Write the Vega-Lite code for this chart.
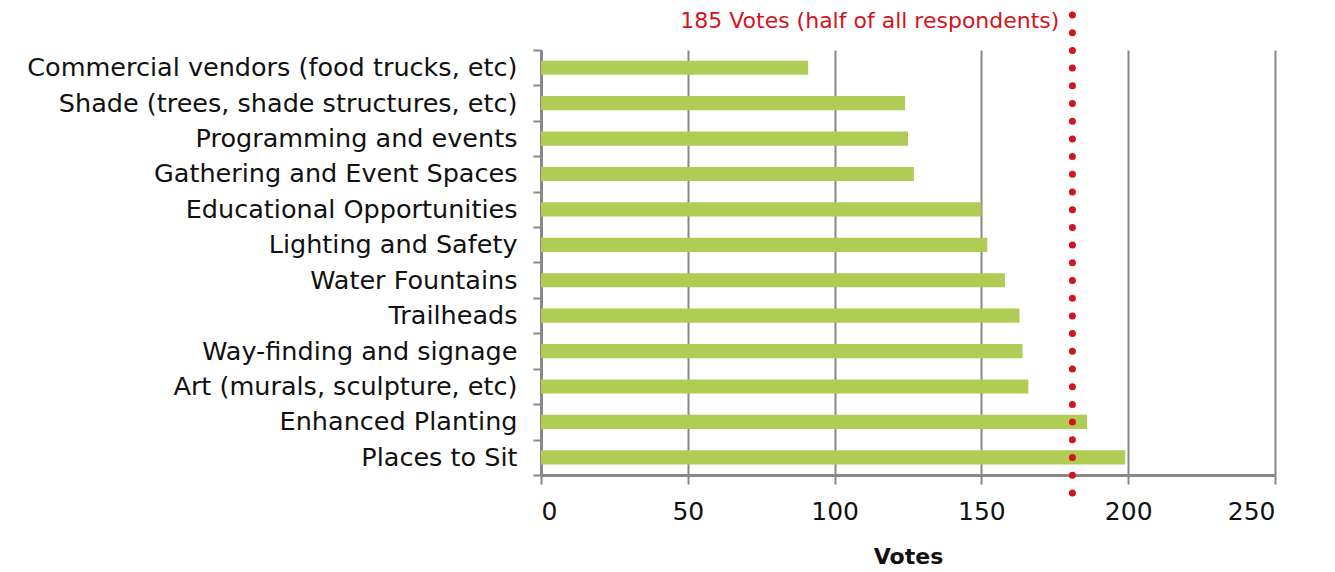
{
  "$schema": "https://vega.github.io/schema/vega-lite/v6.json",
  "width": 734,
  "height": 425,
  "autosize": {"type": "none"},
  "padding": {"left": 541, "top": 50, "right": 60, "bottom": 97},
  "config": {
    "view": {"stroke": null},
    "font": "DejaVu Sans"
  },
  "data": {
    "values": [
      {"item": "Commercial vendors (food trucks, etc)", "votes": 91},
      {"item": "Shade (trees, shade structures, etc)", "votes": 124},
      {"item": "Programming and events", "votes": 125},
      {"item": "Gathering and Event Spaces", "votes": 127},
      {"item": "Educational Opportunities", "votes": 150},
      {"item": "Lighting and Safety", "votes": 152},
      {"item": "Water Fountains", "votes": 158},
      {"item": "Trailheads", "votes": 163},
      {"item": "Way-finding and signage", "votes": 164},
      {"item": "Art (murals, sculpture, etc)", "votes": 166},
      {"item": "Enhanced Planting", "votes": 186},
      {"item": "Places to Sit", "votes": 199}
    ]
  },
  "layer": [
    {
      "mark": {"type": "bar", "color": "#B0CC55", "height": {"band": 0.4}},
      "encoding": {
        "y": {
          "field": "item",
          "type": "nominal",
          "sort": null,
          "scale": {"paddingInner": 0, "paddingOuter": 0},
          "axis": {
            "title": null,
            "labelFontSize": 25.5,
            "labelColor": "#111111",
            "labelPadding": 16,
            "labelLimit": 600,
            "tickBand": "extent",
            "tickSize": 8,
            "tickColor": "#888888",
            "tickWidth": 2,
            "domainColor": "#888888",
            "domainWidth": 3
          }
        },
        "x": {
          "field": "votes",
          "type": "quantitative",
          "scale": {"domain": [0, 250], "nice": false},
          "axis": {
            "values": [0, 50, 100, 150, 200, 250],
            "title": "Votes",
            "titleFontSize": 22,
            "titleFontWeight": "bold",
            "titleColor": "#111111",
            "titlePadding": 22,
            "labelFontSize": 25,
            "labelColor": "#111111",
            "labelPadding": 15,
            "tickSize": 9,
            "tickColor": "#888888",
            "tickWidth": 2,
            "domainColor": "#888888",
            "domainWidth": 3,
            "grid": true,
            "gridColor": "#888888",
            "gridWidth": 2
          }
        }
      }
    },
    {
      "data": {"values": [{"ref": 181, "label": "185 Votes (half of all respondents)"}]},
      "mark": {"type": "rule", "color": "#D2141E", "strokeWidth": 7, "strokeCap": "round", "strokeDash": [0.01, 17.69], "clip": false},
      "encoding": {
        "x": {"field": "ref", "type": "quantitative"},
        "y": {"value": -35},
        "y2": {"value": {"expr": "height + 22"}}
      }
    },
    {
      "data": {"values": [{"ref": 181, "label": "185 Votes (half of all respondents)"}]},
      "mark": {"type": "text", "color": "#D2141E", "fontSize": 22, "align": "right", "baseline": "middle", "dx": -13},
      "encoding": {
        "x": {"field": "ref", "type": "quantitative"},
        "y": {"value": -29},
        "text": {"field": "label"}
      }
    }
  ]
}
